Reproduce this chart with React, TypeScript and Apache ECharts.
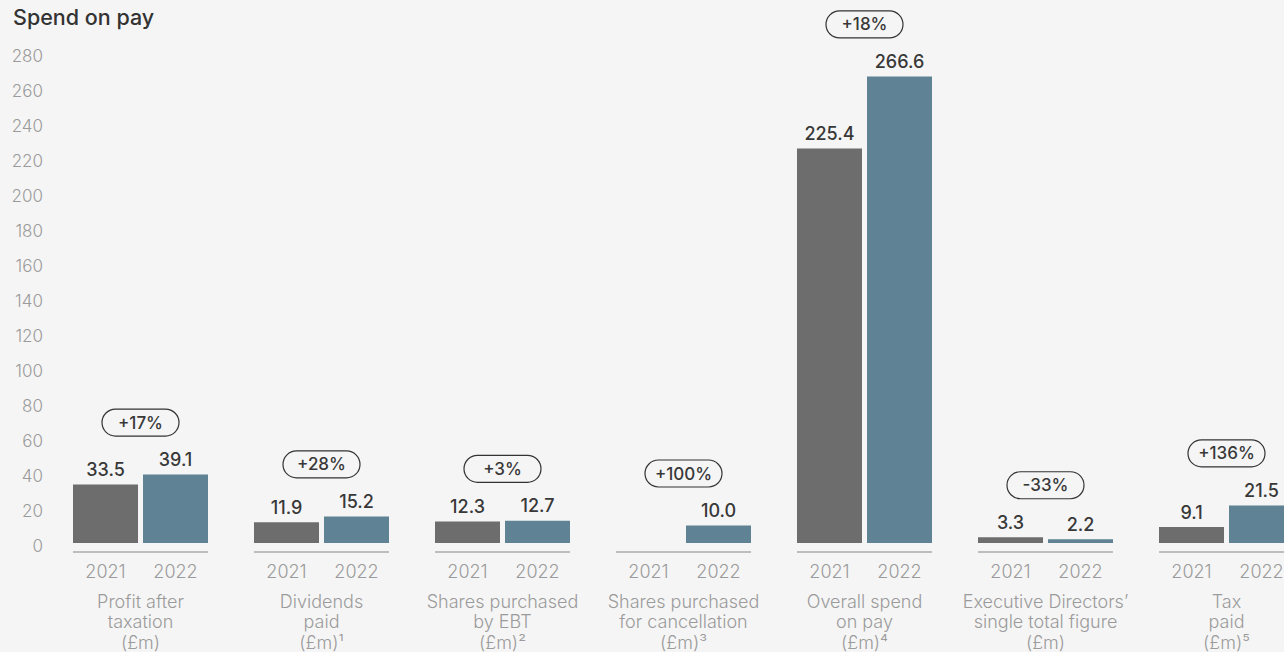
import React, { useEffect, useRef } from "react";
import * as echarts from "echarts";

const categories = [
  "Profit after\ntaxation\n(£m)",
  "Dividends\npaid\n(£m)¹",
  "Shares purchased\nby EBT\n(£m)²",
  "Shares purchased\nfor cancellation\n(£m)³",
  "Overall spend\non pay\n(£m)⁴",
  "Executive Directors’\nsingle total figure\n(£m)",
  "Tax\npaid\n(£m)⁵",
];
const years = ["2021", "2022"];
const values2021: (number | null)[] = [33.5, 11.9, 12.3, null, 225.4, 3.3, 9.1];
const values2022: number[] = [39.1, 15.2, 12.7, 10.0, 266.6, 2.2, 21.5];
const changeLabels = ["+17%", "+28%", "+3%", "+100%", "+18%", "-33%", "+136%"];
const yMin = 0;
const yMax = 280;
const yStep = 20;

const FONT = "Inter, 'Open Sans', sans-serif";
const DARK = "#383838";
const GREY_TEXT = "#9b9b9b";

export default function App() {
  const ref = useRef<HTMLDivElement>(null);

  useEffect(() => {
    if (!ref.current) return;
    const chart = echarts.init(ref.current, undefined, { renderer: "svg" });

    const baseData = categories.map((_, i) => [i, 0]);
    const pillData = categories.map((_, i) => [
      i,
      Math.max(values2021[i] ?? 0, values2022[i] ?? 0),
    ]);

    const valueLabel = {
      show: true,
      position: "top",
      distance: 6,
      fontSize: 18,
      fontWeight: 500,
      fontFamily: FONT,
      color: DARK,
      formatter: (p: any) => (p.value == null ? "" : Number(p.value).toFixed(1)),
    };

    chart.setOption({
      animation: false,
      backgroundColor: "#f5f5f5",
      title: {
        text: "Spend on pay",
        left: 8,
        top: 1,
        textStyle: { fontSize: 21.5, fontWeight: 500, color: "#333", fontFamily: FONT },
      },
      grid: { left: 50, top: 53, width: 1267, height: 490, containLabel: false },
      xAxis: {
        type: "category",
        data: categories,
        axisLine: { show: false },
        axisTick: { show: false },
        splitLine: { show: false },
        axisLabel: {
          interval: 0,
          margin: 8,
          formatter: (v: string) =>
            `{y|${years[0]}}{y|${years[1]}}\n` +
            v.split("\n").map((l) => `{n|${l}}`).join("\n"),
          rich: {
            y: {
              width: 70,
              align: "center",
              fontSize: 18,
              fontWeight: 300,
              lineHeight: 40,
              color: GREY_TEXT,
              fontFamily: FONT,
            },
            n: {
              align: "center",
              fontSize: 18,
              fontWeight: 300,
              lineHeight: 20.5,
              color: GREY_TEXT,
              fontFamily: FONT,
            },
          },
        },
      },
      yAxis: {
        type: "value",
        min: yMin,
        max: yMax,
        interval: yStep,
        axisLine: { show: false },
        axisTick: { show: false },
        splitLine: { show: false },
        axisLabel: {
          margin: 7,
          formatter: (v: number) => `{v|${v}}`,
          rich: {
            v: {
              fontSize: 17,
              fontWeight: 300,
              color: GREY_TEXT,
              fontFamily: FONT,
              padding: [6, 0, 0, 0],
            },
          },
        },
      },
      series: [
        {
          name: years[0],
          type: "bar",
          data: values2021,
          barWidth: 65,
          barGap: "7.7%",
          itemStyle: { color: "#6d6d6d" },
          label: valueLabel,
        },
        {
          name: years[1],
          type: "bar",
          data: values2022,
          barWidth: 65,
          itemStyle: { color: "#5f8394" },
          label: valueLabel,
        },
        {
          type: "custom",
          data: baseData,
          silent: true,
          z: 1,
          renderItem: (params: any, api: any) => {
            const p = api.coord([api.value(0), 0]);
            return {
              type: "line",
              shape: { x1: p[0] - 67.5, y1: p[1] + 9, x2: p[0] + 67.5, y2: p[1] + 9 },
              style: { stroke: "#bdbdbd", lineWidth: 2 },
            };
          },
        },
        {
          type: "custom",
          data: pillData,
          silent: true,
          z: 5,
          renderItem: (params: any, api: any) => {
            const p = api.coord([api.value(0), api.value(1)]);
            const cy = p[1] - 52;
            const w = 77;
            const h = 27;
            return {
              type: "group",
              children: [
                {
                  type: "rect",
                  shape: { x: p[0] - w / 2, y: cy - h / 2, width: w, height: h, r: h / 2 },
                  style: { fill: "transparent", stroke: "#333", lineWidth: 1.2 },
                },
                {
                  type: "text",
                  style: {
                    text: changeLabels[params.dataIndex],
                    x: p[0],
                    y: cy,
                    textAlign: "center",
                    textVerticalAlign: "middle",
                    align: "center",
                    verticalAlign: "middle",
                    fontSize: 17,
                    fontWeight: 500,
                    fontFamily: FONT,
                    fill: DARK,
                  },
                },
              ],
            };
          },
        },
      ],
    });

    return () => chart.dispose();
  }, []);

  return (
    <div style={{ position: "fixed", left: 0, top: 0, width: 1284, height: 652, overflow: "hidden" }}>
      <div ref={ref} style={{ width: 1320, height: 652 }} />
    </div>
  );
}
